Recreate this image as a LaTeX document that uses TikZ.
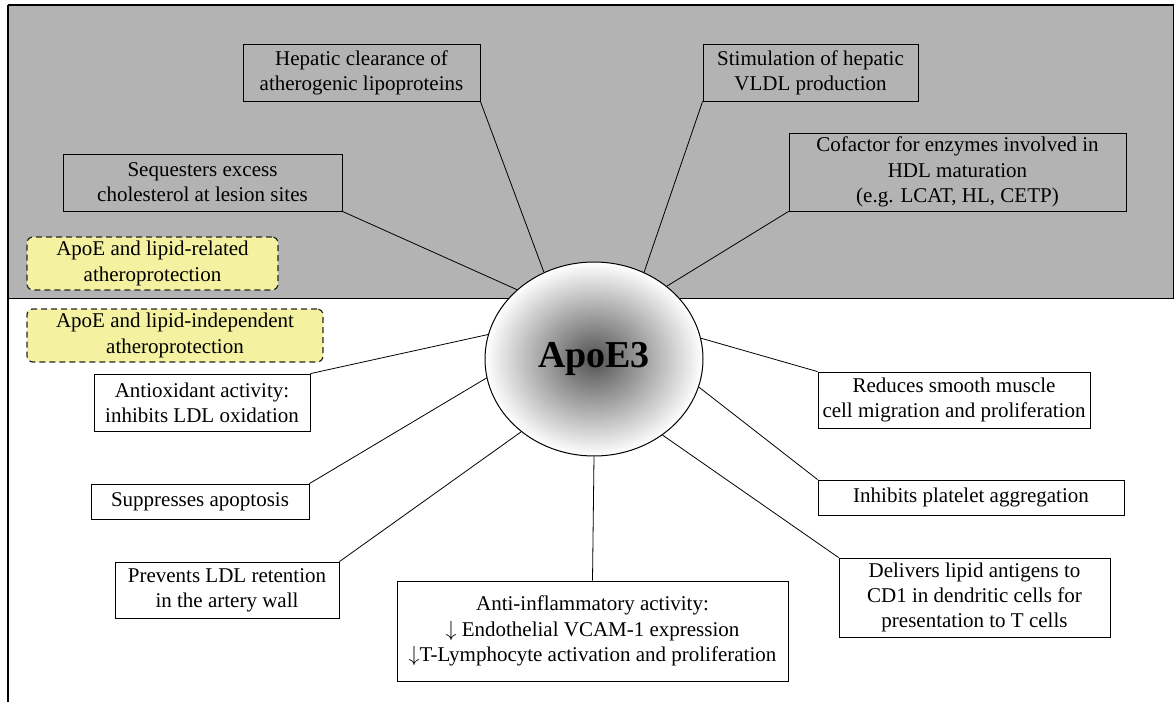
\documentclass[tikz,border=0pt]{standalone}
\usepackage{fontspec}
\setmainfont{Liberation Serif}
\usetikzlibrary{shapes.geometric}

\definecolor{panelgray}{RGB}{179,179,179}
\definecolor{notebox}{RGB}{244,241,160}

\tikzset{
  every node/.style={font=\fontsize{10.5}{12.6}\selectfont},
  effect/.style={draw,thin,align=center,inner sep=1pt},
  note/.style={draw=black!85,line width=0.6pt,dash pattern=on 3pt off 2pt,fill=notebox,
    rounded corners=3pt,align=center,inner sep=1pt},
  spoke/.style={thin}
}

\begin{document}
\begin{tikzpicture}[x=0.5pt,y=-0.5pt]
      \useasboundingbox (0,0) rectangle (1174,702);
      % lipid-related half
      \fill[panelgray] (8,5) rectangle (1174,298);
      \draw[thin] (8,298) -- (1174,298);
      \draw[thin] (1173,5) -- (1173,298);
      \draw[line width=0.8pt] (8,5) -- (1174,5);
      \draw[line width=0.6pt] (8,5) -- (8,702);

      \node[ellipse,draw,line width=0.5pt,inner sep=0pt,minimum width=109pt,minimum height=97pt,
        inner color=black!68,outer color=white] (apo) at (594,359)
        {\fontsize{19}{22}\selectfont\bfseries ApoE3};

      \node[effect,minimum width=118.5pt,minimum height=28.5pt] (hep) at (361.5,72.5)
        {Hepatic clearance of\\atherogenic lipoproteins};
      \node[effect,minimum width=107.5pt,minimum height=28.5pt] (stim) at (810.5,72.5)
        {Stimulation of hepatic\\VLDL production};
      \node[effect,minimum width=168.5pt,minimum height=39pt] (cof) at (957.5,172)
        {Cofactor for enzymes involved in\\HDL maturation\\(e.g. LCAT, HL, CETP)};
      \node[effect,minimum width=139.5pt,minimum height=28.5pt] (seq) at (202.5,182.5)
        {Sequesters excess\\cholesterol at lesion sites};
      \node[note,minimum width=125.5pt,minimum height=26.5pt] (rel) at (152.5,263.5)
        {ApoE and lipid-related\\atheroprotection};

      % lipid-independent half
      \node[note,minimum width=148pt,minimum height=26.5pt] (ind) at (175,335.5)
        {ApoE and lipid-independent\\atheroprotection};
      \node[effect,minimum width=108pt,minimum height=28.5pt] (antiox) at (202,402.5)
        {Antioxidant activity:\\inhibits LDL oxidation};
      \node[effect,minimum width=109pt,minimum height=17.5pt] (apop) at (200,501.5)
        {Suppresses apoptosis};
      \node[effect,minimum width=112pt,minimum height=28pt] (ret) at (227,590)
        {Prevents LDL retention\\in the artery wall};
      \node[effect,minimum width=195.5pt,minimum height=50pt] (infl) at (592.5,631)
        {Anti-inflammatory activity:\\$\downarrow$ Endothelial VCAM-1 expression\\$\downarrow$T-Lymphocyte activation and proliferation};
      \node[effect,minimum width=136pt,minimum height=28pt] (smc) at (954,400)
        {Reduces smooth muscle\\cell migration and proliferation};
      \node[effect,minimum width=153pt,minimum height=17.5pt] (plt) at (971,497.5)
        {Inhibits platelet aggregation};
      \node[effect,minimum width=135.5pt,minimum height=39.5pt] (cd) at (974.5,597.5)
        {Delivers lipid antigens to\\CD1 in dendritic cells for\\presentation to T cells};

      \foreach \from/\ang in {hep.south east/120,stim.south west/60,cof.south west/45,
        seq.south east/138,antiox.north east/167,apop.north east/190,ret.north east/225,
        infl.north/270,smc.north west/11,plt.north west/345,cd.north west/312}{
        \draw[spoke] (\from) -- (apo.\ang);
      }
    \end{tikzpicture}
\end{document}
